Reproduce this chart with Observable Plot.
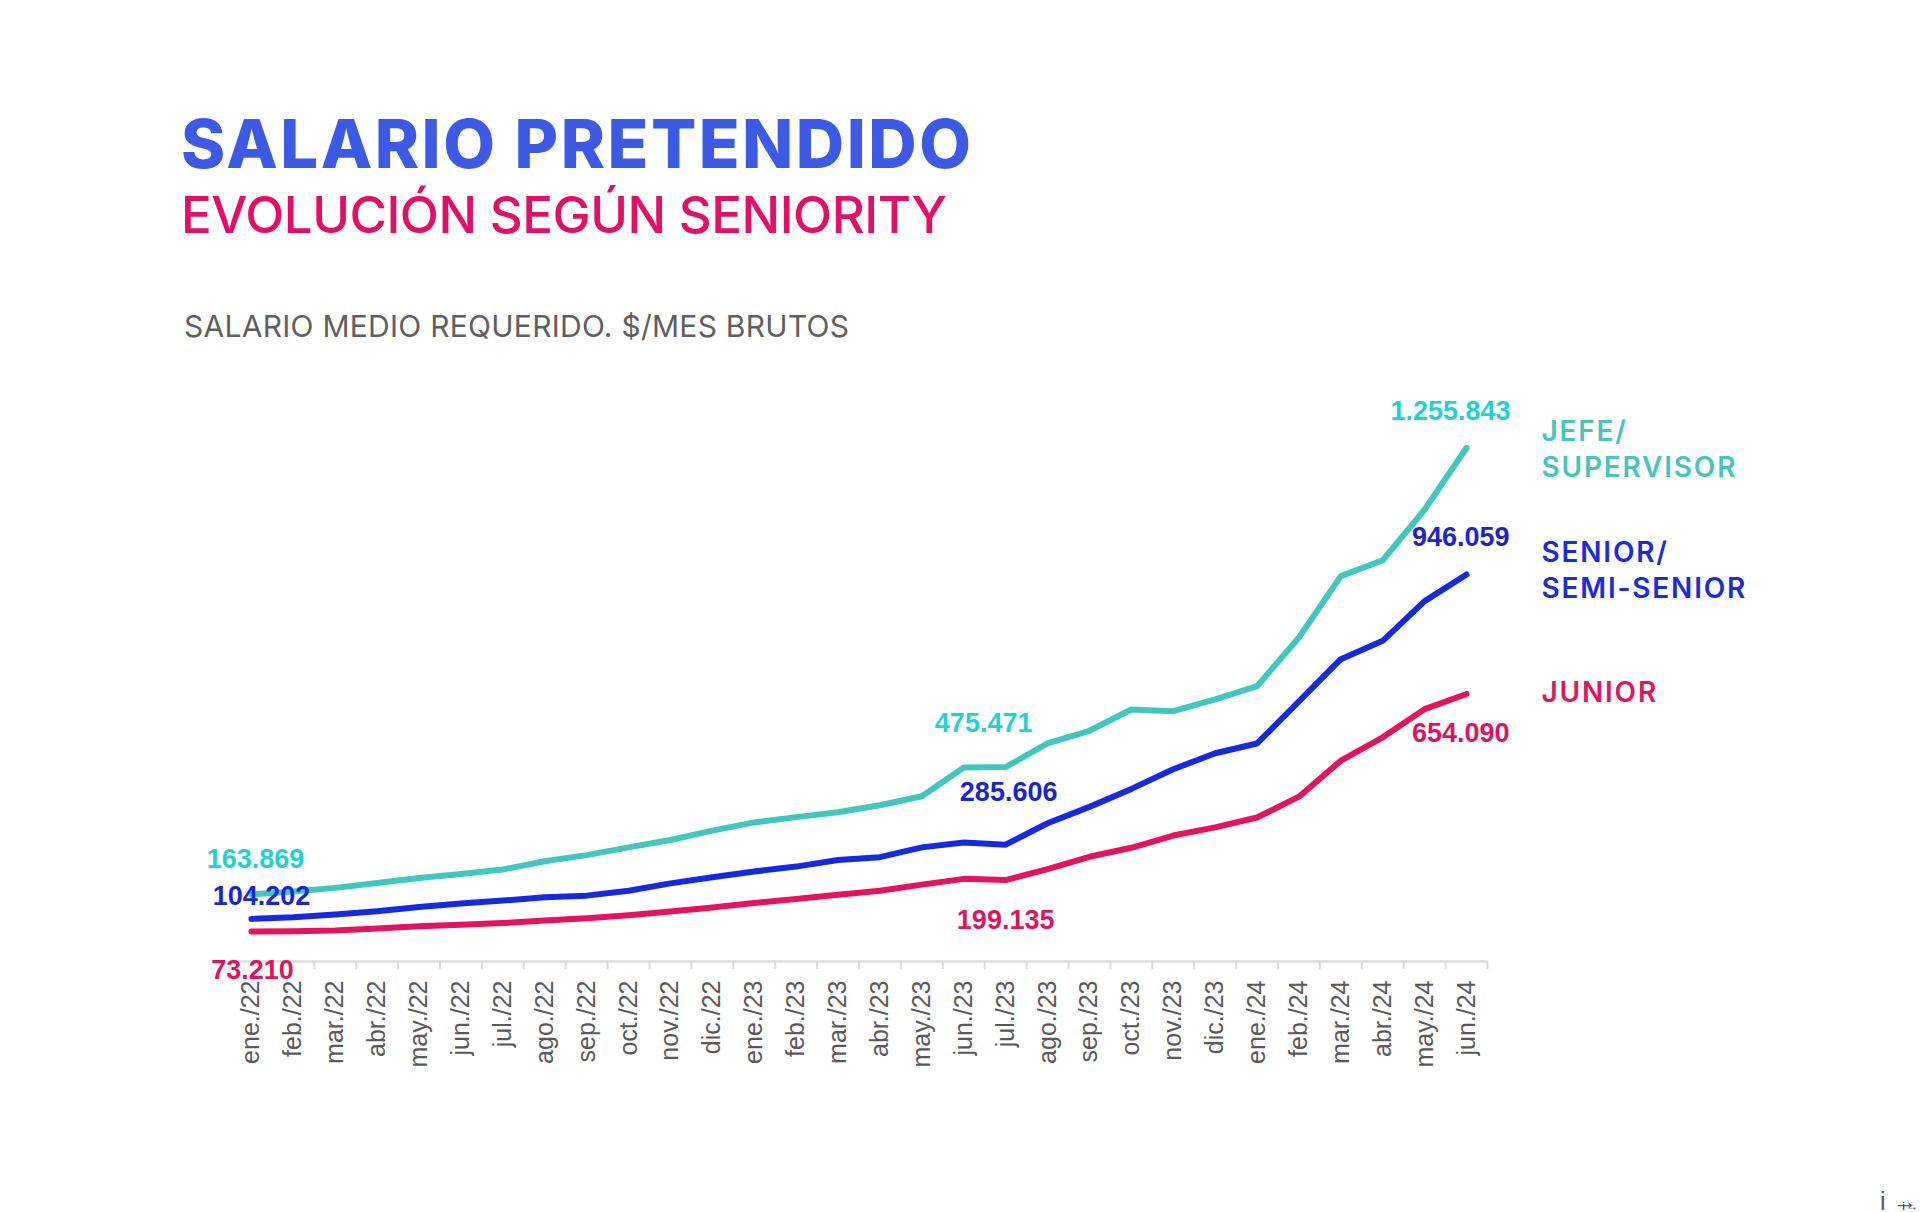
<!DOCTYPE html>
<html>
<head>
<meta charset="utf-8">
<script src="https://cdn.jsdelivr.net/npm/d3@7"></script>
<script src="https://cdn.jsdelivr.net/npm/@observablehq/plot@0.6"></script>
<style>
  html, body { margin: 0; padding: 0; background: #ffffff; overflow: hidden; }
  body > *:not(#page):not(script) { display: none !important; }
  #page { position: relative; width: 1920px; height: 1212px; overflow: hidden; background: #fff; }
  #header { position: relative; width: 1920px; height: 360px; }
  .hl { position: absolute; white-space: nowrap; line-height: 1; font-family: Inter, "Open Sans", sans-serif; }
  #title { left: 181px; top: 110px; font-size: 67px; font-weight: 800; color: #3d5ae6; }
  #subtitle { left: 181px; top: 189px; font-size: 51px; font-weight: 500; color: #e50e63; }
  #unit { left: 184px; top: 311px; font-size: 30px; font-weight: 400; color: #5f5f5f; }
  #chart svg { display: block; }
</style>
</head>
<body>
<div id="page">
  <div id="header">
    <div class="hl" id="title" data-w="790">SALARIO PRETENDIDO</div>
    <div class="hl" id="subtitle" data-w="766">EVOLUCIÓN SEGÚN SENIORITY</div>
    <div class="hl" id="unit" data-w="665">SALARIO MEDIO REQUERIDO. $/MES BRUTOS</div>
  </div>
  <div id="chart"></div>
</div>
<script>
// ---- data ----
const months = ["ene./22","feb./22","mar./22","abr./22","may./22","jun./22","jul./22","ago./22","sep./22","oct./22","nov./22","dic./22",
  "ene./23","feb./23","mar./23","abr./23","may./23","jun./23","jul./23","ago./23","sep./23","oct./23","nov./23","dic./23",
  "ene./24","feb./24","mar./24","abr./24","may./24","jun./24"];
const jefe = [163869,171000,180000,192000,204000,214000,225000,245000,260000,279000,297000,320000,
  340000,353000,365000,382000,404000,474500,475471,533000,564000,616000,612000,641000,
  673000,792000,942000,981000,1105000,1255843];
const senior = [104202,108000,115000,123000,133000,142000,149000,157000,161000,173000,191000,206000,
  220000,232000,248000,255000,279000,291000,285606,338000,378000,422000,470000,509000,
  533000,636000,739000,784000,881000,946059];
const junior = [73210,74000,76000,80500,86000,90000,94000,100000,106000,113000,122000,132000,
  143000,153000,163000,173000,188000,202000,199135,226000,256000,278000,308000,328000,
  352000,403000,491000,548000,617000,654090];
const seriesKeys = ["jefe","senior","junior"];
const seriesNames = ["JEFE/\nSUPERVISOR","SENIOR/\nSEMI-SENIOR","JUNIOR"];
const lineColors = ["#3fc8c0","#1529e4","#e6115f"];
const labelColors = ["#1fd3d0","#1b24d2","#e3125f"];
const nameColors = ["#45c5bc","#1b2be0","#e5145e"];

// ---- tidy table ----
const values = {jefe, senior, junior};
const rows = seriesKeys.flatMap(k => values[k].map((v, i) => ({series: k, i, value: v})));
const pick = (k, i) => rows.filter(d => d.series === k && d.i === i);
const fmt = d3.formatLocale({decimal: ",", thousands: ".", grouping: [3], currency: ["$", ""]}).format(",d");
const edges = d3.range(months.length + 1).map(k => k - 0.5);

const valueFont = {fontFamily: "Liberation Sans, Arial, sans-serif", fontWeight: "bold", fontSize: 27};
function valueLabel(k, i, dx, dy, anchor) {
  const c = labelColors[seriesKeys.indexOf(k)];
  return Plot.text(pick(k, i), {x: "i", y: "value", text: d => fmt(d.value), fill: c, dx, dy,
    textAnchor: anchor || "middle", lineAnchor: "middle", ...valueFont});
}
function nameLabel(idx, dy) {
  const k = seriesKeys[idx];
  return Plot.text(pick(k, months.length - 1), {x: "i", y: "value", text: () => seriesNames[idx],
    fill: nameColors[idx], dx: 75, dy, textAnchor: "start", lineAnchor: "middle", lineHeight: 1.29,
    fontSize: 28, fontWeight: 600, fontFamily: "Inter, sans-serif"});
}

const H = 852;
const chart = Plot.plot({
  width: 1920,
  height: H,
  marginLeft: 230,
  marginRight: 433,
  marginTop: 87.3,
  marginBottom: 251,
  style: {background: "transparent", fontFamily: "Liberation Sans, Arial, sans-serif", overflow: "hidden"},
  x: {type: "linear", domain: [-0.5, months.length - 0.5], axis: null},
  y: {domain: [0, d3.max(jefe)], axis: null},
  color: {domain: seriesKeys, range: lineColors},
  marks: [
    Plot.ruleY([0], {stroke: "#dcdcdc", strokeWidth: 2.5}),
    Plot.axisX({ticks: edges, tickSize: 8, tickFormat: () => "", stroke: "#dcdcdc", strokeWidth: 2}),
    Plot.axisX({ticks: d3.range(months.length), tickSize: 0, tickPadding: 19, tickRotate: -90,
      tickFormat: i => months[i], fontSize: 25, fill: "#595959", fontFamily: "Liberation Sans, Arial, sans-serif"}),
    Plot.line(rows, {x: "i", y: "value", z: "series", stroke: "series", strokeWidth: 6,
      strokeLinejoin: "round", strokeLinecap: "round"}),
    // start labels
    valueLabel("jefe", 0, 4, -35),
    valueLabel("senior", 0, 10, -23),
    valueLabel("junior", 0, 1, 39),
    // mid labels
    valueLabel("jefe", 18, -22, -44),
    valueLabel("senior", 18, 3, -52),
    valueLabel("junior", 18, 0, 40),
    // end labels
    valueLabel("jefe", 29, 44, -36, "end"),
    valueLabel("senior", 29, 43, -37, "end"),
    valueLabel("junior", 29, 43, 39, "end"),
    // series names
    nameLabel(0, 0),
    nameLabel(1, -6),
    nameLabel(2, -4)
  ]
});
document.getElementById("chart").appendChild(chart);

// widen the series-name labels (Montserrat-like spacing)
const nameParts = new Set(seriesNames.flatMap(s => s.split("\n")));
chart.querySelectorAll("text, tspan").forEach(t => {
  if (t.childElementCount === 0 && nameParts.has(t.textContent)) t.style.letterSpacing = "1.8px";
});

// fit header widths with letter spacing
function fit() {
  document.querySelectorAll(".hl").forEach(el => {
    el.style.letterSpacing = "0px";
    const target = +el.dataset.w;
    const w = el.getBoundingClientRect().width;
    const n = el.textContent.length;
    el.style.letterSpacing = ((target - w) / (n - 1)).toFixed(2) + "px";
  });
}
fit();
if (document.fonts && document.fonts.ready) document.fonts.ready.then(fit);
</script>
</body>
</html>
